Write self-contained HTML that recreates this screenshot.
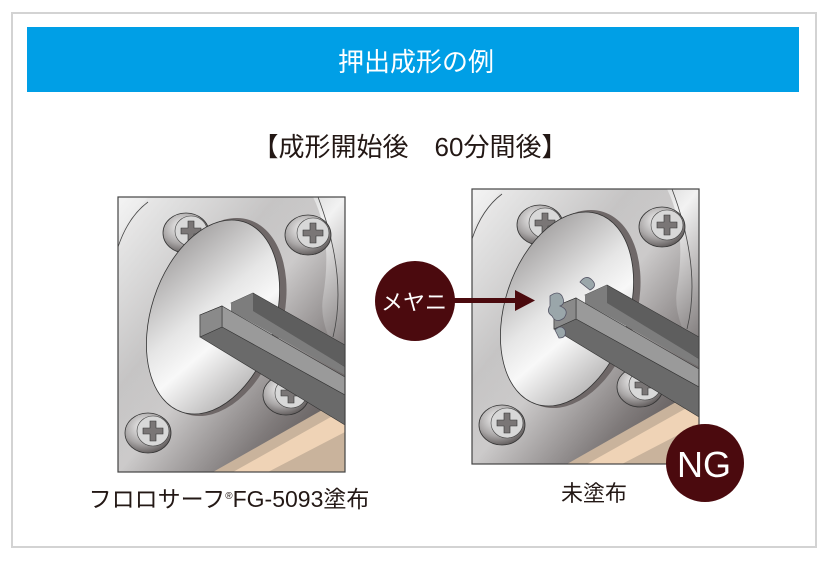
<!DOCTYPE html>
<html><head><meta charset="utf-8"><style>
html,body{margin:0;padding:0;background:#fff;}
body{width:826px;height:560px;overflow:hidden;}
text{font-family:"Liberation Sans","Noto Sans CJK JP",sans-serif;}
</style></head><body>
<svg width="826" height="560" viewBox="0 0 826 560" xmlns="http://www.w3.org/2000/svg">
<defs>
<linearGradient id="plate" x1="0" y1="0" x2="1" y2="1">
<stop offset="0" stop-color="#f4f4f4"/><stop offset="0.35" stop-color="#c8c8c8"/><stop offset="0.5" stop-color="#f2f2f2"/><stop offset="0.75" stop-color="#8a8686"/><stop offset="1" stop-color="#4e4848"/></linearGradient>
<linearGradient id="disk" x1="0" y1="0" x2="1" y2="1">
<stop offset="0" stop-color="#8d8a8a"/><stop offset="0.45" stop-color="#e6e6e6"/><stop offset="0.6" stop-color="#f8f8f8"/><stop offset="1" stop-color="#9a9898"/></linearGradient>
<linearGradient id="flange" x1="0" y1="0" x2="1" y2="1">
<stop offset="0" stop-color="#ececec"/><stop offset="0.5" stop-color="#b3b0b0"/><stop offset="1" stop-color="#3e3636"/></linearGradient>
<radialGradient id="screw" cx="0.4" cy="0.35" r="0.7">
<stop offset="0" stop-color="#f4f4f4"/><stop offset="0.6" stop-color="#a9a6a6"/><stop offset="1" stop-color="#5a5555"/></radialGradient>
<g id="scr">
<ellipse cx="0" cy="0" rx="23" ry="20" fill="url(#screw)" stroke="#333" stroke-width="0.8"/>
<ellipse cx="5" cy="-2" rx="16" ry="15" fill="#d8d8d8" stroke="#444" stroke-width="0.6"/>
<path d="M2,-12 h6 v7 h7 v6 h-7 v7 h-6 v-7 h-7 v-6 h7z" fill="#7a7676" stroke="#333" stroke-width="0.6"/>
</g>
<g id="mach">
<rect x="0" y="0" width="227" height="275" fill="url(#plate)"/>
<path d="M0,240 L0,275 L227,275 L227,170 Q200,130 205,100 Q215,40 195,0 L30,0 Q5,30 0,40 Z" fill="url(#flange)" opacity="0.6"/>
<path d="M200,0 Q230,80 215,140" fill="none" stroke="#444" stroke-width="0.8"/>
<path d="M0,50 Q10,20 30,5" fill="none" stroke="#444" stroke-width="0.8"/>
<polygon points="95,275 227,200 227,275" fill="#c9b39c"/>
<polygon points="115,275 227,212 227,235 150,275" fill="#efd3b6"/>
<use href="#scr" x="68" y="36"/>
<use href="#scr" x="190" y="38"/>
<use href="#scr" x="168" y="198"/>
<use href="#scr" x="30" y="236"/>
<ellipse cx="100" cy="120" rx="64" ry="102" transform="rotate(18 100 120)" fill="#6f6868"/>
<ellipse cx="95" cy="120" rx="62" ry="100" transform="rotate(18 95 120)" fill="url(#disk)" stroke="#333" stroke-width="0.8"/>
<polygon points="113,106 135,96 227,148 227,170" fill="#5e5e5e" stroke="#333" stroke-width="0.6"/>
<polygon points="113,106 135,96 135,114 227,170 227,178 113,114" fill="#7d7d7d"/>
<polygon points="82,118 104,109 227,180 227,198" fill="#9a9a9a" stroke="#333" stroke-width="0.6"/>
<polygon points="82,118 82,140 227,228 227,198 104,130 104,109" fill="#6a6a6a" stroke="#333" stroke-width="0.6"/>
<polygon points="82,118 104,109 104,130 82,140" fill="#8a8a8a" stroke="#333" stroke-width="0.6"/>
<rect x="0" y="0" width="227" height="275" fill="none" stroke="#444" stroke-width="1.2"/>
</g>
</defs>
<rect x="12" y="13" width="804" height="534" fill="#fff" stroke="#d3d3d3" stroke-width="2"/>
<rect x="27" y="27" width="772" height="65" fill="#009fe6"/>
<text x="416" y="71" font-size="26" fill="#fff" text-anchor="middle">押出成形の例</text>
<text x="410" y="156" font-size="26" fill="#231815" text-anchor="middle">【成形開始後　60分間後】</text>
<use href="#mach" x="118" y="197"/>
<use href="#mach" x="472" y="189"/>
<path d="M550,296 q8,-6 12,0 q4,8 -2,10 q10,4 4,12 q-8,6 -12,-2 q-6,-4 -2,-10z M580,282 q6,-8 12,-2 q6,6 -2,10z M555,330 q6,-6 10,0 q2,8 -6,8z" fill="#9aa6aa" stroke="#556" stroke-width="0.8"/>
<circle cx="415" cy="301" r="40" fill="#4b0a0e"/>
<text x="414" y="310" font-size="22" fill="#fff" text-anchor="middle">メヤニ</text>
<rect x="448" y="298" width="70" height="5" fill="#4b0a0e"/>
<polygon points="515,290 535,300.5 515,311" fill="#4b0a0e"/>
<circle cx="705" cy="463" r="39" fill="#4b0a0e"/>
<text x="704" y="477" font-size="36" fill="#fff" text-anchor="middle">NG</text>
<text x="229" y="507" font-size="23" fill="#231815" text-anchor="middle">フロロサーフ<tspan font-size="10" dy="-8">®</tspan><tspan dy="8">FG-5093塗布</tspan></text>
<text x="594" y="501" font-size="22" fill="#231815" text-anchor="middle">未塗布</text>
</svg>
</body></html>
